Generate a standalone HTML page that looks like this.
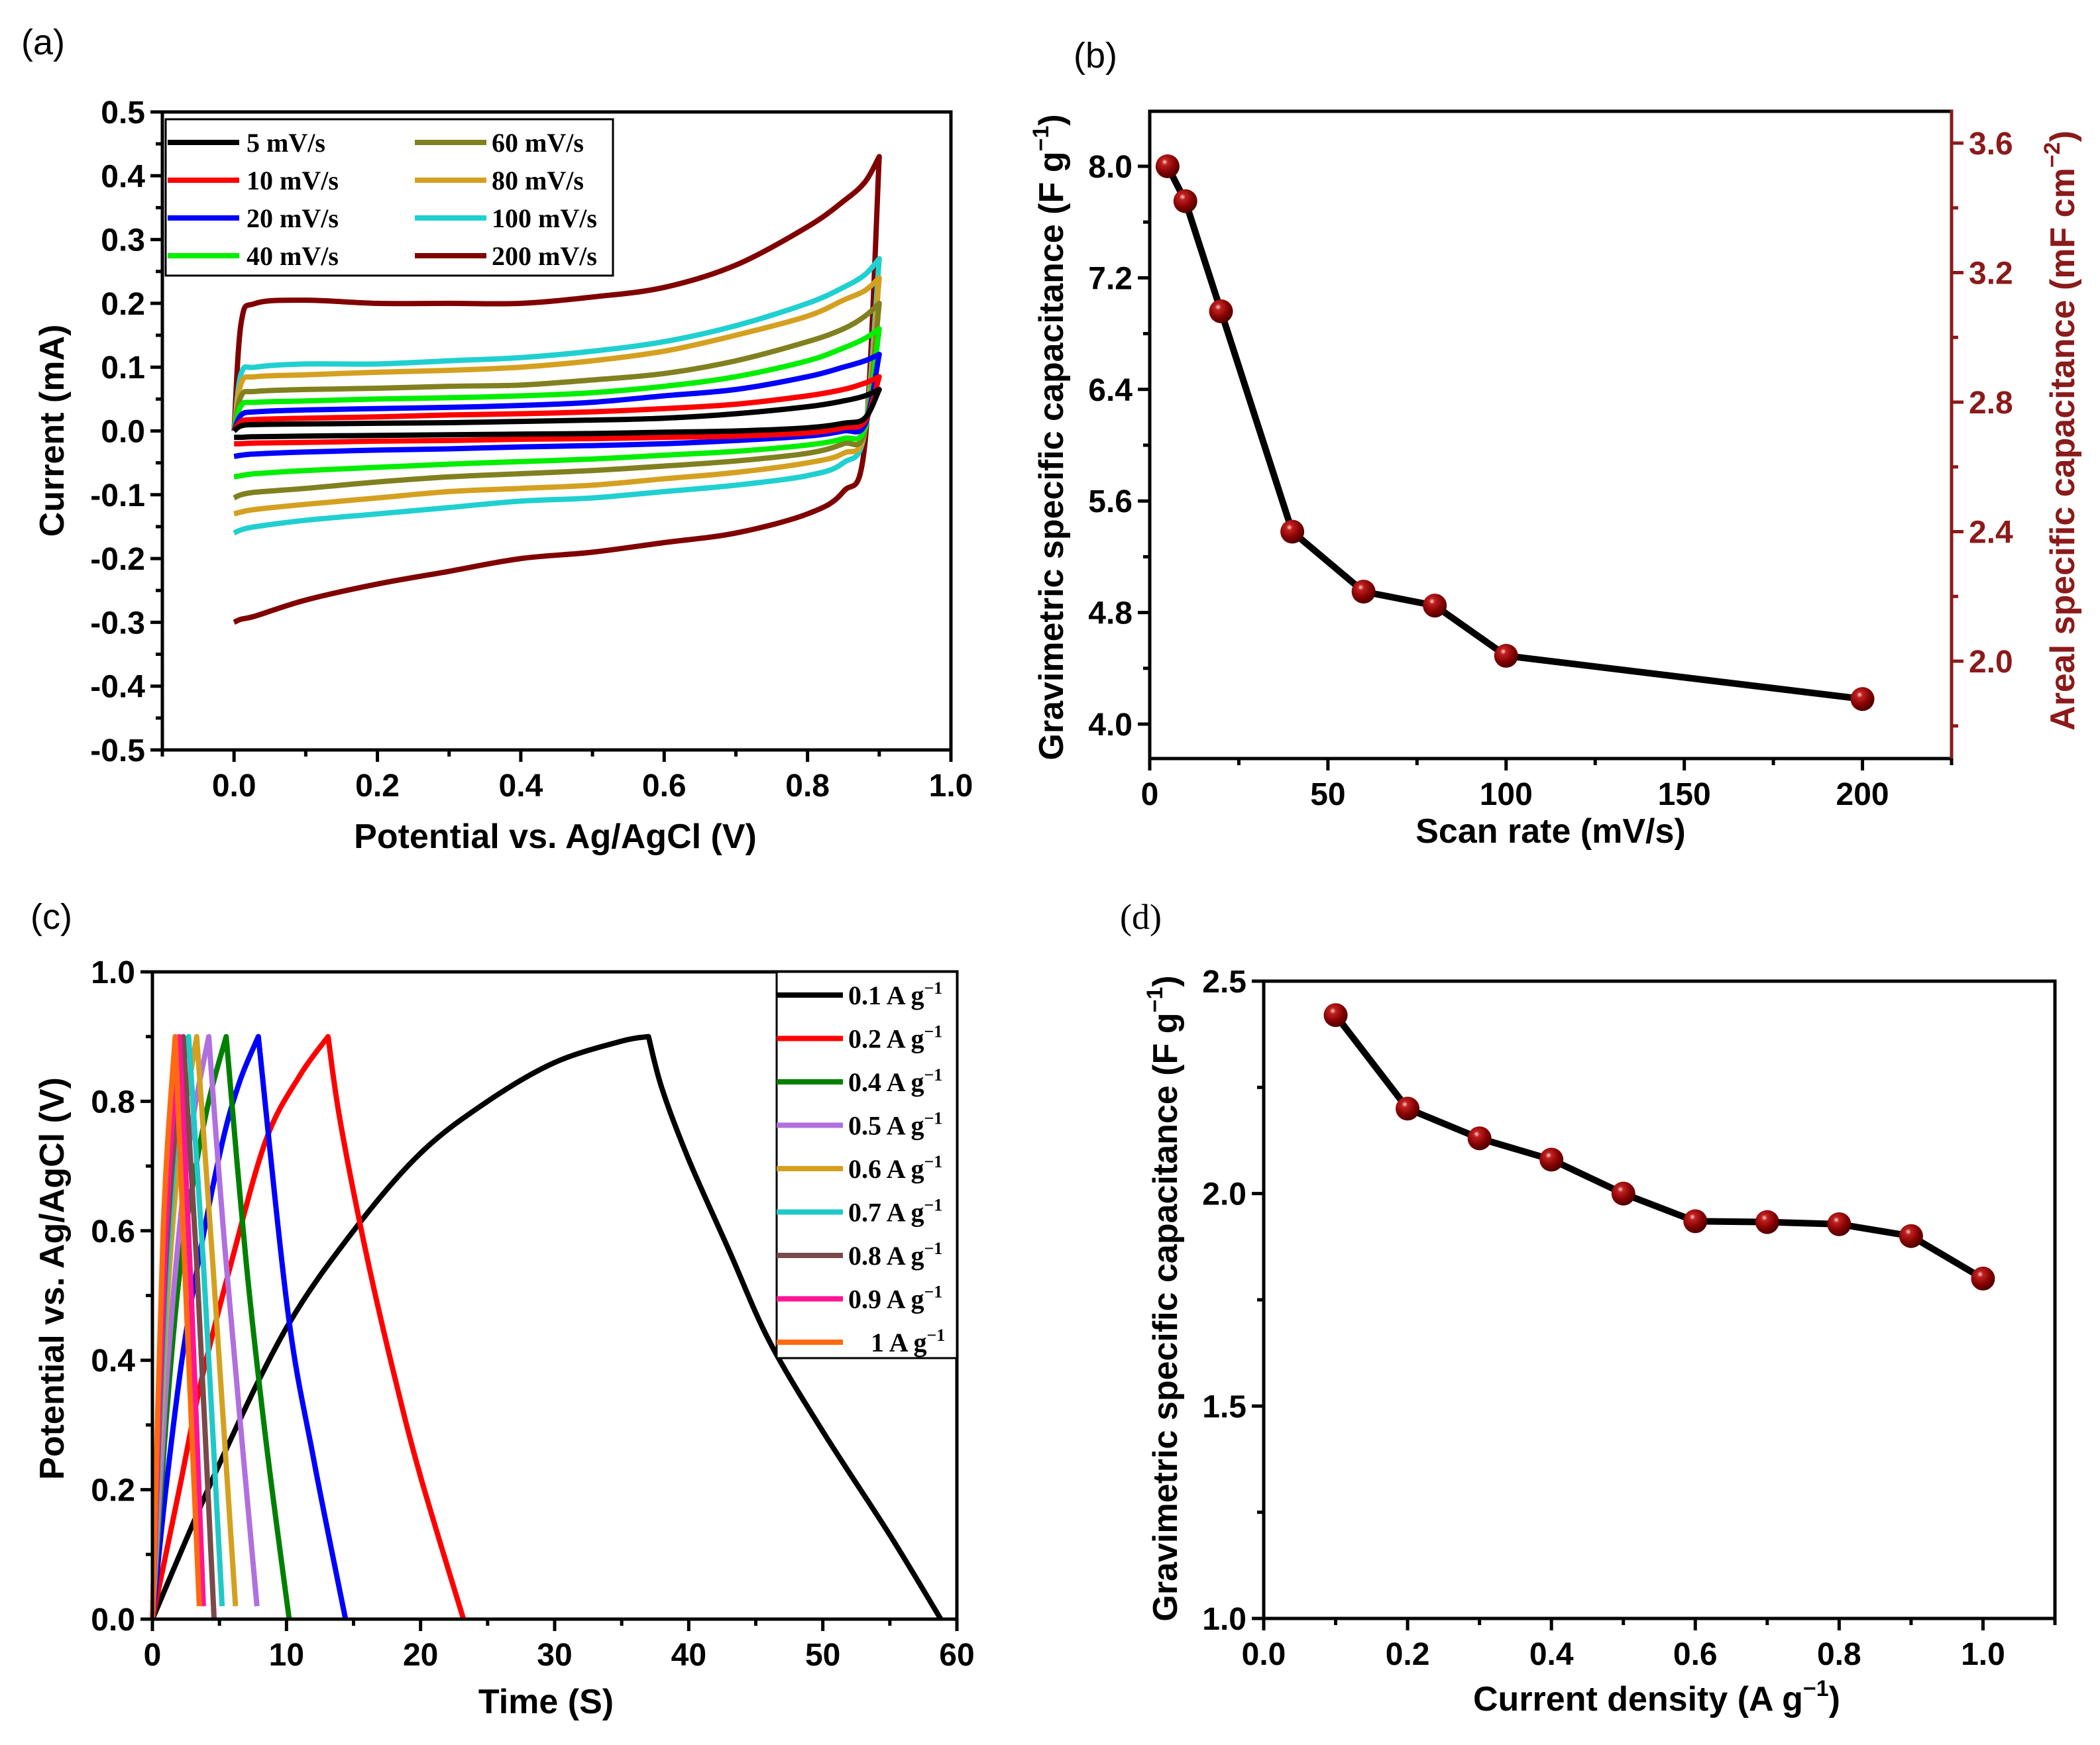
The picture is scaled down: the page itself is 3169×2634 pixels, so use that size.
<!DOCTYPE html>
<html><head><meta charset="utf-8">
<style>
html,body{margin:0;padding:0;background:#fff;}
svg{display:block;}
text{font-family:"Liberation Sans",Arial,sans-serif;}
.tick{font-weight:bold;font-size:48px;}
.title{font-weight:bold;font-size:52px;}
.leg{font-family:"Liberation Serif",serif;font-weight:bold;font-size:40px;}
.plab{font-family:"Liberation Sans",sans-serif;font-size:54px;}
</style></head>
<body>
<svg id="fig" xmlns="http://www.w3.org/2000/svg" width="3169" height="2634" viewBox="0 0 3169 2634">
<defs>
<radialGradient id="ball" cx="0.38" cy="0.32" r="0.7">
<stop offset="0" stop-color="#ffd0d0"/>
<stop offset="0.18" stop-color="#c02020"/>
<stop offset="0.65" stop-color="#800000"/>
<stop offset="1" stop-color="#4a0000"/>
</radialGradient>
</defs>
</svg>
<script>
// ---------- Panel (a) CV data ----------
const cvX = [0, 0.01, 0.03, 0.1, 0.2, 0.3, 0.4, 0.5, 0.6, 0.7, 0.8, 0.85, 0.88, 0.9];
const cvLabels = ["5 mV/s","10 mV/s","20 mV/s","40 mV/s","60 mV/s","80 mV/s","100 mV/s","200 mV/s"];
const cvUp5   = [0,0.008,0.01,0.011,0.012,0.013,0.015,0.017,0.02,0.027,0.038,0.047,0.055,0.065];
const cvLo5   = [-0.01,-0.01,-0.009,-0.008,-0.007,-0.006,-0.005,-0.004,-0.002,0,0.005,0.012,0.02,0.065];
const cvUp10  = [0,0.015,0.018,0.02,0.022,0.025,0.027,0.03,0.035,0.042,0.055,0.065,0.075,0.085];
const cvLo10  = [-0.02,-0.02,-0.019,-0.018,-0.016,-0.015,-0.013,-0.012,-0.01,-0.008,-0.003,0.005,0.015,0.085];
const cvUp20  = [0,0.025,0.03,0.033,0.035,0.037,0.04,0.045,0.055,0.065,0.085,0.1,0.11,0.12];
const cvLo20  = [-0.04,-0.038,-0.036,-0.033,-0.03,-0.028,-0.025,-0.023,-0.02,-0.015,-0.008,0,0.01,0.12];
const cvUp40  = [0,0.04,0.045,0.047,0.05,0.052,0.055,0.06,0.07,0.085,0.11,0.13,0.145,0.16];
const cvLo40  = [-0.072,-0.07,-0.067,-0.062,-0.057,-0.052,-0.048,-0.044,-0.038,-0.032,-0.022,-0.012,0.005,0.16];
const cvUp60  = [0,0.055,0.062,0.065,0.067,0.07,0.072,0.08,0.09,0.11,0.14,0.16,0.18,0.2];
const cvLo60  = [-0.105,-0.1,-0.096,-0.09,-0.08,-0.072,-0.067,-0.062,-0.055,-0.047,-0.035,-0.02,0,0.2];
const cvUp80  = [0,0.075,0.085,0.088,0.092,0.095,0.1,0.11,0.125,0.15,0.18,0.205,0.22,0.24];
const cvLo80  = [-0.13,-0.127,-0.123,-0.115,-0.105,-0.095,-0.09,-0.085,-0.075,-0.065,-0.05,-0.035,0,0.24];
const cvUp100 = [0,0.09,0.1,0.105,0.105,0.11,0.115,0.125,0.14,0.165,0.2,0.225,0.245,0.27];
const cvLo100 = [-0.16,-0.155,-0.15,-0.14,-0.13,-0.12,-0.11,-0.105,-0.095,-0.085,-0.07,-0.05,0,0.27];
const cvUp200 = [0,0.17,0.2,0.205,0.2,0.2,0.2,0.21,0.225,0.26,0.32,0.36,0.39,0.43];
const cvLo200 = [-0.3,-0.295,-0.29,-0.265,-0.24,-0.22,-0.2,-0.19,-0.175,-0.16,-0.13,-0.095,-0.02,0.43];
const cvXTicks = ["0.0","0.2","0.4","0.6","0.8","1.0"];
const cvYTicks = ["-0.5","-0.4","-0.3","-0.2","-0.1","0.0","0.1","0.2","0.3","0.4","0.5"];

// ---------- Panel (b) ----------
const bScan = [5,10,20,40,60,80,100,200];
const bGrav = [8.0,7.75,6.96,5.38,4.95,4.85,4.49,4.18];
const bXTicks = ["0","50","100","150","200"];
const bYTicks = ["4.0","4.8","5.6","6.4","7.2","8.0"];
const bY2Ticks = ["2.0","2.4","2.8","3.2","3.6"];

// ---------- Panel (c) GCD ----------
const gcdLabels = ["0.1","0.2","0.4","0.5","0.6","0.7","0.8","0.9","1"];
const gcdChT = [[0,5,10,15,20,25,30,35,37],[0,2,3.6,6,8.5,11,13.1],[0,1,2.2,3.5,5.2,6.5,7.9],[0,1,2,3,4.2,5.5],[0,1,2,3,4.2],[0,1,2,3.3],[0,1,2,2.7],[0,1,2.3],[0,1,2.0],[0,0.8,1.7]];
const gcdChV = [[0,0.24,0.45,0.6,0.72,0.8,0.86,0.893,0.9],[0,0.2,0.364,0.56,0.742,0.84,0.9],[0,0.2,0.4,0.56,0.735,0.83,0.9],[0,0.3,0.53,0.67,0.8,0.9],[0,0.35,0.6,0.77,0.9],[0,0.45,0.72,0.9],[0,0.5,0.8,0.9],[0,0.55,0.9],[0,0.6,0.9],[0,0.6,0.9]];
const gcdDisT = [[37,38,40,43,46,50,55,58.8],[13.1,14,16,18,20,23.2],[7.9,10.1,12,14.4],[5.5,7,8.5,10.2],[4.2,5.5,7.8],[3.3,4.5,6.2],[2.7,3.8,5.2],[2.3,3.3,4.6],[2.0,2.9,3.8],[1.7,2.5,3.5]];
const gcdDisV = [[0.9,0.82,0.71,0.57,0.43,0.29,0.13,0],[0.9,0.77,0.56,0.38,0.22,0],[0.9,0.475,0.25,0],[0.9,0.55,0.27,0],[0.9,0.55,0.02],[0.9,0.55,0.02],[0.9,0.55,0.02],[0.9,0.55,0],[0.9,0.5,0.02],[0.9,0.5,0.02]];
const cXTicks = ["0","10","20","30","40","50","60"];
const cYTicks = ["0.0","0.2","0.4","0.6","0.8","1.0"];

// ---------- Panel (d) ----------
const dCur = [0.1,0.2,0.3,0.4,0.5,0.6,0.7,0.8,0.9,1.0];
const dGrav = [2.42,2.20,2.13,2.08,2.0,1.935,1.933,1.928,1.90,1.80];
const dXTicks = ["0.0","0.2","0.4","0.6","0.8","1.0"];
const dYTicks = ["1.0","1.5","2.0","2.5"];

const NS = "http://www.w3.org/2000/svg";
const svg = document.getElementById("fig");
function el(tag, attrs, parent) {
  const e = document.createElementNS(NS, tag);
  for (const k in attrs) e.setAttribute(k, attrs[k]);
  (parent || svg).appendChild(e);
  return e;
}
function lin(d0, d1, r0, r1) { return v => r0 + (v - d0) * (r1 - r0) / (d1 - d0); }
function smooth(pts) {
  if (pts.length < 2) return "";
  let d = "M" + pts[0][0].toFixed(1) + "," + pts[0][1].toFixed(1);
  for (let i = 0; i < pts.length - 1; i++) {
    const p0 = pts[i - 1] || pts[i], p1 = pts[i], p2 = pts[i + 1], p3 = pts[i + 2] || p2;
    const c1 = [p1[0] + (p2[0] - p0[0]) / 6, p1[1] + (p2[1] - p0[1]) / 6];
    const c2 = [p2[0] - (p3[0] - p1[0]) / 6, p2[1] - (p3[1] - p1[1]) / 6];
    d += " C" + c1[0].toFixed(1) + "," + c1[1].toFixed(1) + " " + c2[0].toFixed(1) + "," + c2[1].toFixed(1) + " " + p2[0].toFixed(1) + "," + p2[1].toFixed(1);
  }
  return d;
}
function frame(g, L, T, R, B) {
  const r = el("rect", {x: L, y: T, width: R - L, height: B - T, fill: "none", stroke: "#000", "stroke-width": 5}, g);
  
  
}
function xAxisTicks(g, sx, vals, labels, minorVals, B, name) {
  vals.forEach((v, i) => {
    el("line", {x1: sx(v), x2: sx(v), y1: B, y2: B + 18, stroke: "#000", "stroke-width": 5}, g);
    const t = el("text", {x: sx(v), y: B + 70, "text-anchor": "middle", class: "tick"}, g);
    t.textContent = labels[i];
    
    
  });
  minorVals.forEach(v => el("line", {x1: sx(v), x2: sx(v), y1: B, y2: B + 10, stroke: "#000", "stroke-width": 5}, g));
}
function yAxisTicks(g, sy, vals, labels, minorVals, L, name, right, color) {
  const c = color || "#000";
  const dir = right ? 1 : -1;
  vals.forEach((v, i) => {
    el("line", {x1: L, x2: L + dir * 18, y1: sy(v), y2: sy(v), stroke: c, "stroke-width": 5}, g);
    const t = el("text", {x: L + dir * 26, y: sy(v) + 17, "text-anchor": right ? "start" : "end", class: "tick", fill: c}, g);
    t.textContent = labels[i];
    
    
  });
  minorVals.forEach(v => el("line", {x1: L, x2: L + dir * 10, y1: sy(v), y2: sy(v), stroke: c, "stroke-width": 5}, g));
}
function rotTitle(g, x, y, txt, name, color) {
  const t = el("text", {x: x, y: y, "text-anchor": "middle", class: "title", fill: color || "#000", transform: "rotate(-90 " + x + " " + y + ")"}, g);
  t.innerHTML = txt;
  
  
  return t;
}
function hTitle(g, x, y, txt, name) {
  const t = el("text", {x: x, y: y, "text-anchor": "middle", class: "title"}, g);
  t.innerHTML = txt;
  
  
}
function panelLabel(x, y, txt, name, serif) {
  const t = el("text", {x: x, y: y, class: "plab"});
  if (serif) t.setAttribute("style", "font-family:'Liberation Serif',serif");
  t.textContent = txt;
  
  
}
function ball(g, x, y, name) {
  const c = el("circle", {cx: x, cy: y, r: 18, fill: "url(#ball)"}, g);
  
  
}

// ===== Panel (a) =====
(function () {
  const g = el("g", {});
  
  
  const L = 245, R = 1435, T = 169, B = 1132;
  const sx = lin(-0.1, 1.0, L, R), sy = lin(-0.5, 0.5, B, T);
  const ups = [cvUp5, cvUp10, cvUp20, cvUp40, cvUp60, cvUp80, cvUp100, cvUp200];
  const los = [cvLo5, cvLo10, cvLo20, cvLo40, cvLo60, cvLo80, cvLo100, cvLo200];
  const cols = ["#000000", "#ff0000", "#0000ff", "#00ee00", "#808020", "#d4a020", "#20d0d0", "#800000"];
  for (let i = 7; i >= 0; i--) {
    const up = cvX.map((x, j) => [sx(x), sy(ups[i][j])]);
    const lo = cvX.map((x, j) => [sx(x), sy(los[i][j])]).reverse();
    const p = el("path", {d: smooth(up) + " " + smooth(lo).replace("M", "L"), fill: "none", stroke: cols[i], "stroke-width": 8, "stroke-linejoin": "round"}, g);
    
    
  }
  frame(g, L, T, R, B);
  xAxisTicks(g, sx, [0, 0.2, 0.4, 0.6, 0.8, 1.0], cvXTicks, [-0.1, 0.1, 0.3, 0.5, 0.7, 0.9], B, "x-axis-a");
  const yv = [-0.5, -0.4, -0.3, -0.2, -0.1, 0, 0.1, 0.2, 0.3, 0.4, 0.5];
  yAxisTicks(g, sy, yv, cvYTicks, yv.slice(0, 10).map(v => v + 0.05), L, "y-axis-a");
  rotTitle(g, 96, 650, "Current (mA)", "y-axis-title-a");
  hTitle(g, 838, 1280, "Potential vs. Ag/AgCl (V)", "x-axis-title-a");
  const lg = el("g", {}, g);
  
  
  el("rect", {x: 250, y: 180, width: 675, height: 236, fill: "#fff", stroke: "#000", "stroke-width": 3}, lg);
  const rows = [215, 272, 329, 386];
  for (let i = 0; i < 8; i++) {
    const col = i < 4 ? 0 : 1, r = rows[i % 4];
    const lx = col ? 626 : 253, tx = col ? 742 : 372;
    const ln = el("line", {x1: lx, x2: lx + 108, y1: r, y2: r, stroke: cols[i], "stroke-width": 8}, lg);
    
    
    const t = el("text", {x: tx, y: r + 14, class: "leg"}, lg);
    t.textContent = cvLabels[i];
    
    
  }
})();
panelLabel(32, 82, "(a)", "panel-label-a");

// ===== Panel (b) =====
(function () {
  const g = el("g", {});
  
  
  const L = 1735, R = 2945, T = 168, B = 1145;
  const sx = lin(0, 225, L, R), sy = lin(4.0, 8.0, 1093, 251), sy2 = lin(2.0, 3.6, 998, 216);
  const pts = bScan.map((x, i) => [sx(x), sy(bGrav[i])]);
  const pl = el("polyline", {points: pts.map(p => p.join(",")).join(" "), fill: "none", stroke: "#000", "stroke-width": 10, "stroke-linejoin": "round"}, g);
  
  
  pts.forEach((p, i) => ball(g, p[0], p[1], 'point-b-' + bScan[i]));
  frame(g, L, T, R, B);
  el("line", {x1: R, x2: R, y1: T - 2, y2: B + 2, stroke: "#8b1a1a", "stroke-width": 5}, g);
  xAxisTicks(g, sx, [0, 50, 100, 150, 200], bXTicks, [25, 75, 125, 175, 225], B, "x-axis-b");
  yAxisTicks(g, sy, [4.0, 4.8, 5.6, 6.4, 7.2, 8.0], bYTicks, [4.4, 5.2, 6.0, 6.8, 7.6], L, "y-axis-left-b");
  yAxisTicks(g, sy2, [2.0, 2.4, 2.8, 3.2, 3.6], bY2Ticks, [1.8, 2.2, 2.6, 3.0, 3.4], R, "y-axis-right-b", true, "#8b1a1a");
  rotTitle(g, 1604, 660, 'Gravimetric specific capacitance (F g<tspan dy="-22" font-size="34">−1</tspan><tspan dy="22">)</tspan>', "y-axis-title-left-b");
  rotTitle(g, 3130, 650, 'Areal specific capacitance (mF cm<tspan dy="-22" font-size="34">−2</tspan><tspan dy="22">)</tspan>', "y-axis-title-right-b", "#8b1a1a");
  hTitle(g, 2340, 1272, "Scan rate (mV/s)", "x-axis-title-b");
})();
panelLabel(1620, 102, "(b)", "panel-label-b");

// ===== Panel (c) =====
(function () {
  const g = el("g", {});
  
  
  const L = 230, R = 1444, T = 1467, B = 2444;
  const sx = lin(0, 60, L, R), sy = lin(0, 1.0, B, T);
  const cols = ["#000000", "#ff0000", "#008000", "#b070e0", "#d4a020", "#20c8c8", "#7a4a4a", "#ff1493", "#ff6a10"];
  const sCols = ["#000000", "#ff0000", "#0000ff", "#008000", "#b070e0", "#d4a020", "#20c8c8", "#7a4a4a", "#ff1493", "#ff6a10"];
  for (let i = 0; i < gcdChT.length; i++) {
    const ch = gcdChT[i].map((t, j) => [sx(t), sy(gcdChV[i][j])]);
    const ds = gcdDisT[i].map((t, j) => [sx(t), sy(gcdDisV[i][j])]);
    const p = el("path", {d: smooth(ch) + " " + smooth(ds).replace("M", "L"), fill: "none", stroke: sCols[i], "stroke-width": 8, "stroke-linejoin": "round"}, g);
    
    
  }
  frame(g, L, T, R, B);
  xAxisTicks(g, sx, [0, 10, 20, 30, 40, 50, 60], cXTicks, [5, 15, 25, 35, 45, 55], B, "x-axis-c");
  yAxisTicks(g, sy, [0, 0.2, 0.4, 0.6, 0.8, 1.0], cYTicks, [0.1, 0.3, 0.5, 0.7, 0.9], L, "y-axis-c");
  rotTitle(g, 96, 1930, "Potential vs. Ag/AgCl (V)", "y-axis-title-c");
  hTitle(g, 824, 2586, "Time (S)", "x-axis-title-c");
  const lg = el("g", {}, g);
  
  
  el("rect", {x: 1172, y: 1467, width: 272, height: 583, fill: "#fff", stroke: "#000", "stroke-width": 3}, lg);
  for (let i = 0; i < 9; i++) {
    const r = 1502 + i * 65.5;
    const ln = el("line", {x1: 1172, x2: 1272, y1: r, y2: r, stroke: cols[i], "stroke-width": 8}, lg);
    
    
    const t = el("text", {x: i === 8 ? 1314 : 1280, y: r + 14, class: "leg"}, lg);
    t.innerHTML = gcdLabels[i] + ' A g<tspan dy="-16" font-size="26">−1</tspan>';
    
    
  }
})();
panelLabel(46, 1402, "(c)", "panel-label-c");

// ===== Panel (d) =====
(function () {
  const g = el("g", {});
  
  
  const L = 1907, R = 3101, T = 1481, B = 2443;
  const sx = lin(0, 1.1, L, R), sy = lin(1.0, 2.5, B, T);
  const pts = dCur.map((x, i) => [sx(x), sy(dGrav[i])]);
  const pl = el("polyline", {points: pts.map(p => p.join(",")).join(" "), fill: "none", stroke: "#000", "stroke-width": 10, "stroke-linejoin": "round"}, g);
  
  
  pts.forEach((p, i) => ball(g, p[0], p[1], 'point-d-' + dCur[i]));
  frame(g, L, T, R, B);
  xAxisTicks(g, sx, [0, 0.2, 0.4, 0.6, 0.8, 1.0], dXTicks, [0.1, 0.3, 0.5, 0.7, 0.9, 1.1], B, "x-axis-d");
  yAxisTicks(g, sy, [1.0, 1.5, 2.0, 2.5], dYTicks, [1.25, 1.75, 2.25], L, "y-axis-d");
  rotTitle(g, 1776, 1960, 'Gravimetric specific capacitance (F g<tspan dy="-22" font-size="34">−1</tspan><tspan dy="22">)</tspan>', "y-axis-title-d");
  hTitle(g, 2500, 2582, 'Current density (A g<tspan dy="-22" font-size="34">−1</tspan><tspan dy="22">)</tspan>', "x-axis-title-d");
})();
panelLabel(1690, 1402, "(d)", "panel-label-d", true);
</script>
</body></html>
